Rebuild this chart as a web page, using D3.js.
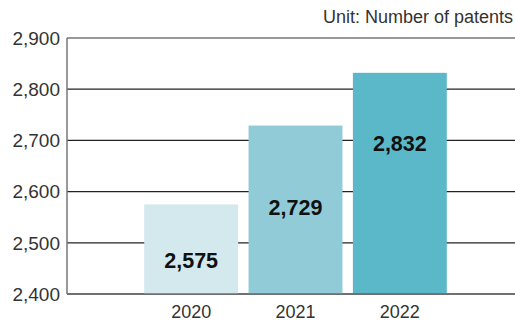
<!DOCTYPE html>
<html>
<head>
<meta charset="utf-8">
<script src="https://cdn.jsdelivr.net/npm/d3@7"></script>
<style>
  body { margin: 0; background: #fff; }
  svg text { font-family: "Liberation Sans", Arial, Helvetica, sans-serif; }
</style>
</head>
<body>
<svg id="chart" width="515" height="325"></svg>
<script>
const years = ["2020", "2021", "2022"];
const patents = [2575, 2729, 2832];
const yTicks = [2400, 2500, 2600, 2700, 2800, 2900];
const unitLabel = "Unit: Number of patents";

const colors = ["#d3e9ee", "#91cbd7", "#5bb8c9"];
// where the value label sits inside each bar (in data units)
const labelAnchor = [2466, 2570, 2695];

const svg = d3.select("#chart");
const margin = { top: 38, right: 0, bottom: 31, left: 67 };
const width = 515, height = 325;

const y = d3.scaleLinear()
  .domain([2400, 2900])
  .range([height - margin.bottom, margin.top]);

const x = d3.scaleBand()
  .domain(years)
  .range([139, 452])
  .paddingInner(0.1)
  .paddingOuter(0.05);

// grid lines
svg.append("g")
  .selectAll("line")
  .data(yTicks)
  .join("line")
  .attr("x1", margin.left)
  .attr("x2", width)
  .attr("y1", (d) => y(d))
  .attr("y2", (d) => y(d))
  .attr("stroke", (d) => (d === 2900 || d === 2400 ? "#777" : "#222"))
  .attr("stroke-width", 1.3);

// bars
svg.append("g")
  .selectAll("rect")
  .data(patents)
  .join("rect")
  .attr("x", (d, i) => x(years[i]))
  .attr("width", x.bandwidth())
  .attr("y", (d) => y(d))
  .attr("height", (d) => y(2400) - y(d))
  .attr("fill", (d, i) => colors[i]);

// baseline + left axis line on top
svg.append("line")
  .attr("x1", margin.left).attr("x2", width)
  .attr("y1", y(2400)).attr("y2", y(2400))
  .attr("stroke", "#555").attr("stroke-opacity", 0.8).attr("stroke-width", 1.5);
svg.append("line")
  .attr("x1", margin.left).attr("x2", margin.left)
  .attr("y1", y(2900)).attr("y2", y(2400))
  .attr("stroke", "#777").attr("stroke-width", 1.5);

// value labels
svg.append("g")
  .selectAll("text")
  .data(patents)
  .join("text")
  .attr("x", (d, i) => x(years[i]) + x.bandwidth() / 2)
  .attr("y", (d, i) => y(labelAnchor[i]))
  .attr("dy", "0.36em")
  .attr("text-anchor", "middle")
  .attr("font-size", 21.5)
  .attr("font-weight", "bold")
  .attr("fill", "#111")
  .text((d) => d3.format(",")(d));

// y tick labels
svg.append("g")
  .selectAll("text")
  .data(yTicks)
  .join("text")
  .attr("x", 60)
  .attr("y", (d) => y(d))
  .attr("dy", "0.36em")
  .attr("text-anchor", "end")
  .attr("font-size", 19)
  .attr("fill", "#333")
  .text((d) => d3.format(",")(d));

// x labels
svg.append("g")
  .selectAll("text")
  .data(years)
  .join("text")
  .attr("x", (d) => x(d) + x.bandwidth() / 2)
  .attr("y", 312)
  .attr("dy", "0.36em")
  .attr("text-anchor", "middle")
  .attr("font-size", 18)
  .attr("fill", "#333")
  .text((d) => d);

svg.append("text")
  .attr("x", 513)
  .attr("y", 17)
  .attr("dy", "0.36em")
  .attr("text-anchor", "end")
  .attr("font-size", 18)
  .attr("fill", "#333")
  .text(unitLabel);
</script>
</body>
</html>
